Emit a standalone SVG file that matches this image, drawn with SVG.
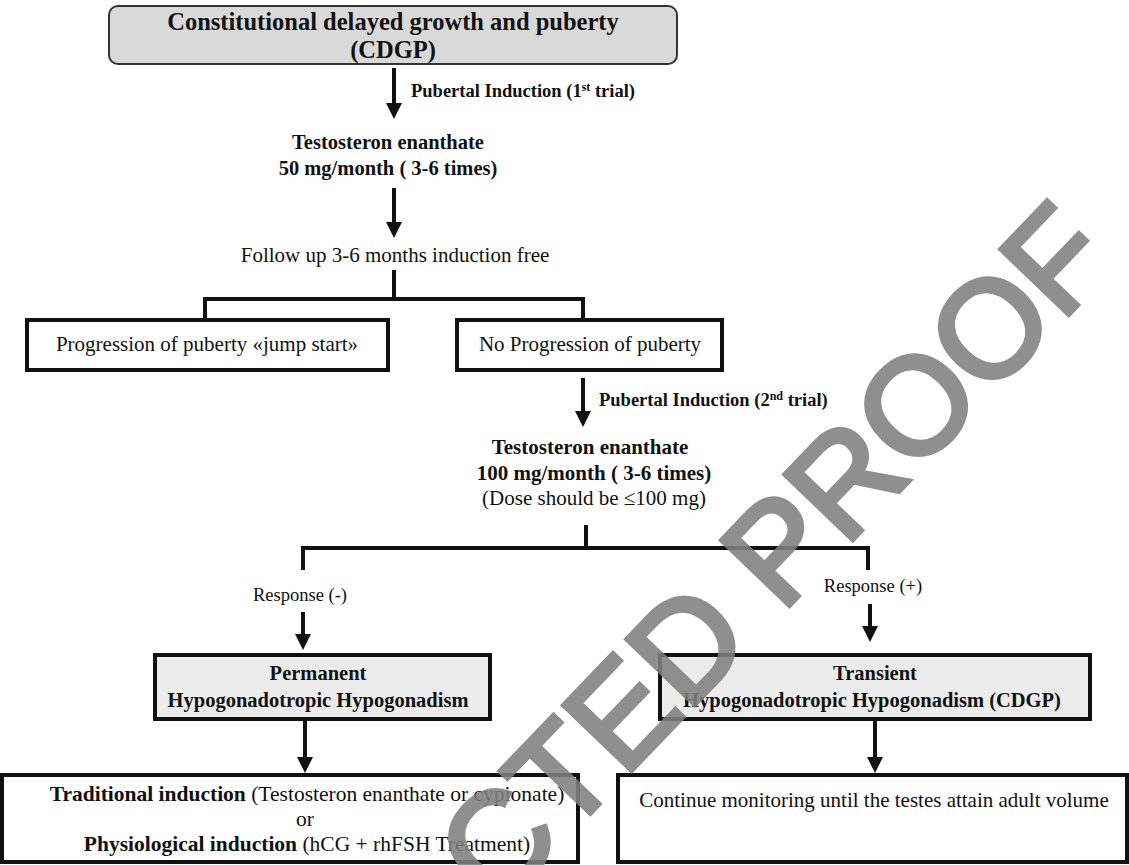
<svg xmlns="http://www.w3.org/2000/svg" width="1129" height="865" viewBox="0 0 1129 865">
<style>
.s{font-family:"Liberation Serif","Times New Roman",serif;fill:#111}
.b{font-weight:bold}
.box{fill:#fff;stroke:#111;stroke-width:4}
.gbox{fill:#ececec;stroke:#111;stroke-width:4}
.ln{fill:none;stroke:#111;stroke-width:4}
.wm{font-family:"Liberation Sans",Arial,sans-serif;fill:#808080;stroke:#808080;stroke-width:5;stroke-linejoin:miter}
</style>
<defs>
<marker id="ah" markerUnits="userSpaceOnUse" markerWidth="16" markerHeight="16" refX="11" refY="8" orient="auto" viewBox="0 0 16 16">
<path d="M0,0 L16,8 L0,16 Z" fill="#111"/>
</marker>
</defs>
<rect width="1129" height="865" fill="#fff"/>
<g id="n-cdgp">
<rect x="109" y="6" width="568" height="58" rx="9" fill="#d9d9d9" stroke="#333" stroke-width="2"/>
<text class="s b" x="393" y="30" font-size="24.5" text-anchor="middle">Constitutional delayed growth and puberty</text>
<text class="s b" x="393" y="58" font-size="24.5" text-anchor="middle">(CDGP)</text>
</g>
<g id="n-te50">
<text class="s b" x="388" y="149" font-size="20.5" text-anchor="middle">Testosteron enanthate</text>
<text class="s b" x="388" y="175" font-size="20.5" text-anchor="middle">50 mg/month ( 3-6 times)</text>
</g>
<g id="n-follow">
<text class="s" x="395" y="262" font-size="21" text-anchor="middle">Follow up 3-6 months induction free</text>
</g>
<g id="n-prog">
<rect class="box" x="27" y="320" width="361" height="50"/>
<text class="s" x="207" y="351" font-size="21" text-anchor="middle">Progression of puberty «jump start»</text>
</g>
<g id="n-noprog">
<rect class="box" x="457" y="320" width="265" height="50"/>
<text class="s" x="590" y="351" font-size="21" text-anchor="middle">No Progression of puberty</text>
</g>
<g id="n-te100">
<text class="s b" x="590" y="454" font-size="21" text-anchor="middle">Testosteron enanthate</text>
<text class="s b" x="594" y="480" font-size="21" text-anchor="middle">100 mg/month ( 3-6 times)</text>
<text class="s" x="594" y="505" font-size="21" text-anchor="middle">(Dose should be ≤100 mg)</text>
</g>
<g id="n-permanent">
<rect class="gbox" x="155" y="655" width="335" height="64"/>
<text class="s b" x="318" y="680" font-size="20.5" text-anchor="middle">Permanent</text>
<text class="s b" x="318" y="707" font-size="20.5" text-anchor="middle">Hypogonadotropic Hypogonadism</text>
</g>
<g id="n-transient">
<rect class="gbox" x="660" y="655" width="430" height="64"/>
<text class="s b" x="875" y="680" font-size="20.5" text-anchor="middle">Transient</text>
<text class="s b" x="872" y="707" font-size="20.5" text-anchor="middle">Hypogonadotropic Hypogonadism (CDGP)</text>
</g>
<g id="n-induction">
<rect class="box" x="2" y="775" width="576" height="87"/>
<text class="s" x="307" y="801" font-size="21.5" text-anchor="middle"><tspan class="b">Traditional induction</tspan> (Testosteron enanthate or cypionate)</text>
<text class="s" x="305" y="826" font-size="21.5" text-anchor="middle">or</text>
<text class="s" x="307" y="851" font-size="21.5" text-anchor="middle"><tspan class="b">Physiological induction</tspan> (hCG + rhFSH Treatment)</text>
</g>
<g id="n-monitor">
<rect class="box" x="618" y="775" width="509" height="87"/>
<text class="s" x="874" y="807" font-size="21" text-anchor="middle">Continue monitoring until the testes attain adult volume</text>
</g>
<g id="connectors">
<line class="ln" x1="394" y1="68" x2="394" y2="114" marker-end="url(#ah)"/>
<text class="s b" x="411" y="97" font-size="18.5">Pubertal Induction (1<tspan font-size="12" dy="-6">st</tspan><tspan dy="6"> trial)</tspan></text>
<line class="ln" x1="394" y1="188" x2="394" y2="233" marker-end="url(#ah)"/>
<path class="ln" d="M394,270 V299 M205,322 V299 H583 V322"/>
<line class="ln" x1="583" y1="378" x2="583" y2="422" marker-end="url(#ah)"/>
<text class="s b" x="599" y="406" font-size="18.5">Pubertal Induction (2<tspan font-size="12" dy="-6">nd</tspan><tspan dy="6"> trial)</tspan></text>
<path class="ln" d="M586,525 V548 M303,570 V548 H868 V570"/>
<text class="s" x="300" y="601" font-size="18.5" text-anchor="middle">Response (-)</text>
<text class="s" x="873" y="592" font-size="18.5" text-anchor="middle">Response (+)</text>
<line class="ln" x1="303" y1="612" x2="303" y2="645" marker-end="url(#ah)"/>
<line class="ln" x1="870" y1="604" x2="870" y2="637" marker-end="url(#ah)"/>
<line class="ln" x1="305" y1="721" x2="305" y2="768" marker-end="url(#ah)"/>
<line class="ln" x1="875" y1="721" x2="875" y2="768" marker-end="url(#ah)"/>
</g>
<text class="wm" opacity="0.88" transform="translate(1119,262) rotate(-46.2)" font-size="137" text-anchor="end">RETRACTED PROOF</text>
</svg>
